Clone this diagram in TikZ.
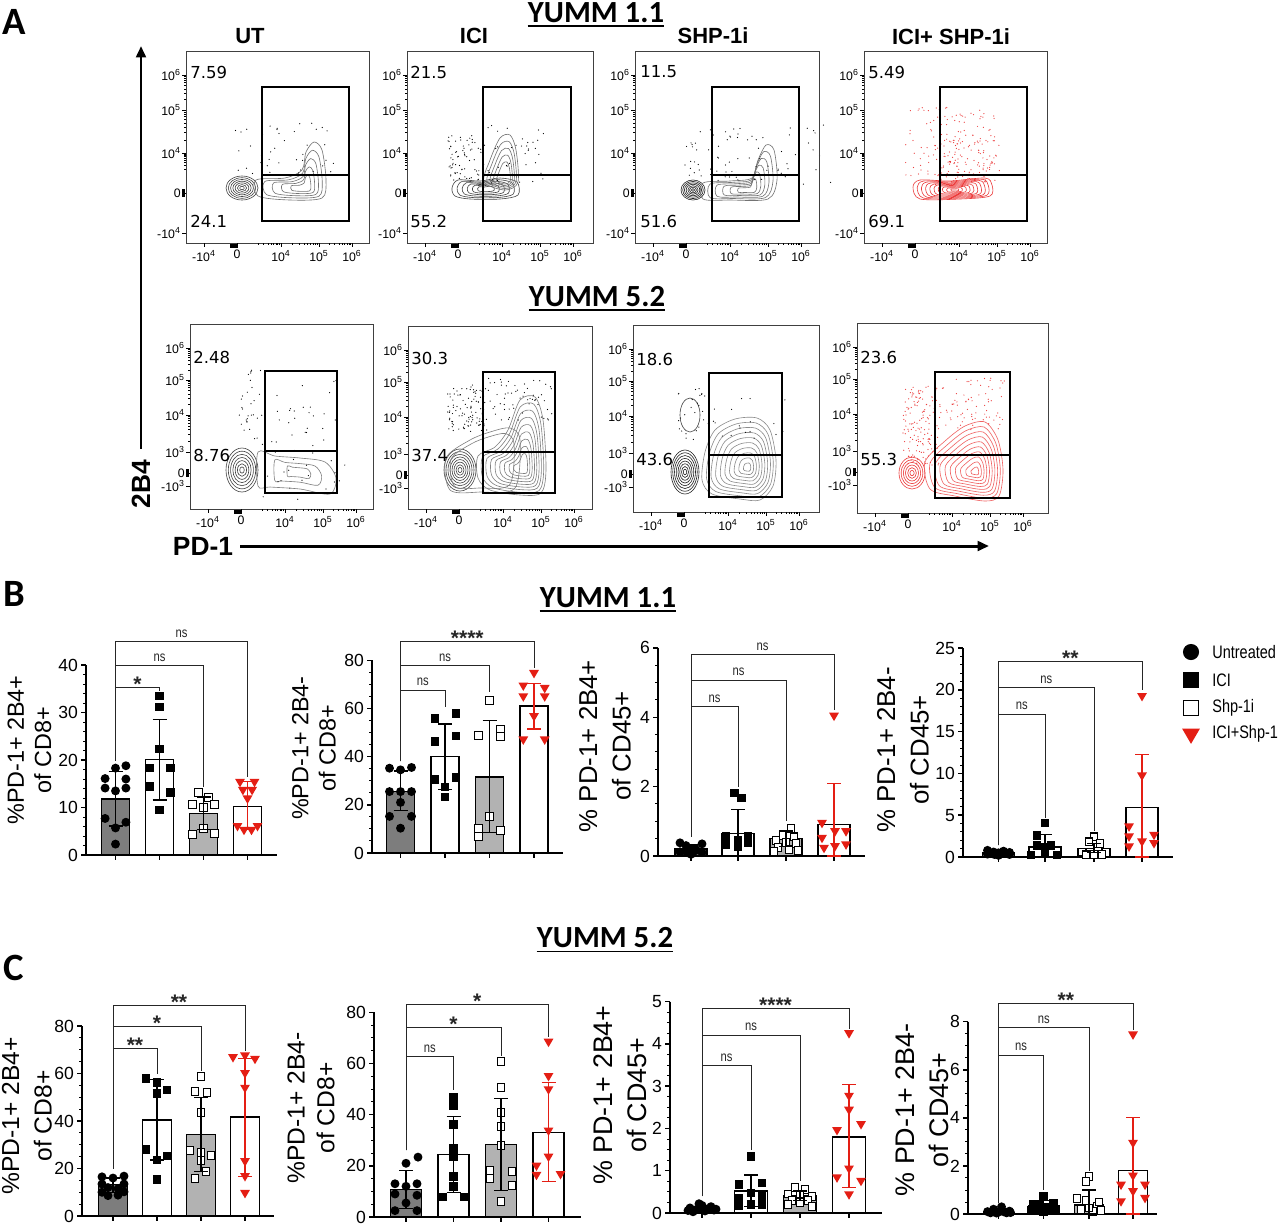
\documentclass[tikz,border=0pt]{standalone}
\usepackage{fontspec}
\setmainfont{Liberation Sans}
\newfontfamily\calfont{Carlito}
\newfontfamily\narrowfont[FakeStretch=0.8]{Liberation Sans}
\newfontfamily\flowfont{DejaVu Sans}
\usepackage{tikz}
\usetikzlibrary{arrows.meta}

\definecolor{bardark}{RGB}{125,125,125}
\definecolor{barlight}{RGB}{178,178,178}
\definecolor{ptred}{RGB}{228,30,20}
\definecolor{flowred}{RGB}{236,60,60}
\definecolor{flowgray}{RGB}{70,70,70}

\newcommand\ten[1]{10\textsuperscript{#1}}

\tikzset{
  ax/.style={line width=0.85pt},
  minor/.style={line width=0.55pt},
  bar/.style={draw=black, line width=0.75pt},
  ebar/.style={line width=0.7pt, black},
  ebred/.style={line width=0.7pt, ptred},
  brk/.style={line width=0.5pt, black!85},
  ytl/.style={left, inner sep=1.2pt, font=\fontsize{10}{12}\selectfont},
  nslab/.style={anchor=base, yshift=2.4pt, inner sep=0pt, font=\narrowfont\fontsize{8}{9}\selectfont},
  starlab/.style={anchor=base, yshift=-2.4pt, inner sep=0pt, font=\bfseries\fontsize{12}{14}\selectfont},
  ytitle/.style={rotate=90, align=center, inner sep=0pt},
  flowbox/.style={draw=black!75, line width=0.5pt},
  gatebox/.style={draw=black, line width=0.6pt},
  flowtick/.style={line width=0.35pt},
  flowtl/.style={inner sep=0.5pt, font=\fontsize{7}{7}\selectfont},
  quad/.style={anchor=west, inner sep=0pt, font=\flowfont\fontsize{9.4}{11}\selectfont},
  flowtitle/.style={font=\bfseries\fontsize{12.5}{14}\selectfont},
  yumm/.style={inner sep=0pt, font=\calfont\bfseries\fontsize{17.5}{20}\selectfont},
  uline/.style={line width=1pt},
  paneltag/.style={font=\calfont\bfseries\fontsize{22}{24}\selectfont},
  axname/.style={font=\bfseries\fontsize{15}{17}\selectfont, inner sep=0pt},
  axarrow/.style={line width=1.7pt, -{Triangle[length=6.5pt,width=5.5pt]}},
  lgtext/.style={anchor=west, inner sep=0pt, font=\narrowfont\fontsize{10.3}{12}\selectfont},
  mkcirc/.pic={\fill (0,0) circle[radius=2.55pt];},
  mksq/.pic={\fill (-2.4pt,-2.4pt) rectangle (2.4pt,2.4pt);},
  mkosq/.pic={\draw[line width=0.6pt, fill=white] (-2.25pt,-2.25pt) rectangle (2.25pt,2.25pt);},
  mktri/.pic={\fill[ptred] (-2.8pt,2pt) -- (2.8pt,2pt) -- (0,-2.8pt) -- cycle;},
}

% flow plot helpers
\def\ytopticks{24/\ten6,59/\ten5,102/\ten4,142/0,182/-\ten4}
\def\ybotticks{24/\ten6,56/\ten5,91/\ten4,128/\ten3,149/0,162/-\ten3}
\newcommand\flowaxes[7]{%
  \begin{scope}[shift={(#1,#2)}]
    \draw[flowbox] (0,0) rectangle (#3,#4);
    \foreach \p/\t in #5 {\draw[flowtick] (0,\p) -- ++(-4,0);
      \node[flowtl, left] (fy\p) at (-4,\p) {\t};}
    \foreach \a/\b in #6 {\foreach \k in {2,...,9}
      \draw[flowtick] (0,{\b+(\a-\b)*log10(\k)}) -- ++(-2,0);}
    \fill (-4.5,#7-4) rectangle (-1,#7+4);
    \foreach \p/\t in {18/-\ten4,51/0,95/\ten4,133/\ten5,166/\ten6} {\draw[flowtick] (\p,#4) -- ++(0,4);
      \node[flowtl, below] (fx\p) at (\p,#4+6) {\t};}
    \foreach \a/\b in {62/95,95/133,133/166} {\foreach \k in {2,...,9}
      \draw[flowtick] ({\a+(\b-\a)*log10(\k)},#4) -- ++(0,2);}
    \fill (44,#4+1) rectangle (52,#4+4.5);
  \end{scope}}
\newcommand\gate[5]{\draw[gatebox] (#1,#2) rectangle (#3,#5) (#1,#4) -- (#3,#4);}
\newcommand\nestring[6]{\foreach \k in {1,...,#5}
  \draw[#6, line width=0.35pt] (#1,#2) ellipse[x radius={#3*\k/#5}, y radius={#4*\k/#5}];}
\newcommand\blob[5]{\foreach \s in {#4}
  \draw[#3, line width=0.35pt, scale around={\s:(#1,#2)}] plot[smooth cycle] coordinates {#5};}
\newcommand\specks[6]{\foreach \i in {1,...,#1}{%
  \pgfmathsetmacro\sx{#2+rnd*(#3-#2)}\pgfmathsetmacro\sy{#4+rnd*(#5-#4)}%
  \fill[#6] (\sx,\sy) circle[radius=0.35pt];}}

% bar chart helpers
\newcommand\yaxis[5]{%
  \draw[ax] (0,#1) -- (0,0) -- (#4,0);
  \foreach \v in {0,#2,...,#1} \draw[ax] (0,\v) -- ++(-3pt,0) node[ytl] (yl\v) {\v};
  \foreach \v in {0,#3,...,#1} \draw[minor] (0,\v) -- ++(-1.7pt,0);
  \foreach \c in {#5} \draw[ax] (\c,0) -- ++(0,-3pt);}
\newcommand\bars[2]{\foreach \c/\h/\f in {#2} \draw[bar, fill=\f] (\c-#1,0) rectangle (\c+#1,\h);}
\newcommand\plotmarks[3]{\foreach \dx/\v in {#3} \pic at (#1+\dx,\v) {#2};}
\newcommand\sdbars[1]{\foreach \c/\lo/\hi/\st in {#1}
  \draw[\st] (\c,\lo) -- (\c,\hi) (\c-7,\lo) -- (\c+7,\lo) (\c-7,\hi) -- (\c+7,\hi);}
\newcommand\sigbrackets[3]{\foreach \r/\h/\e/\t/\st [count=\i] in {#3}
  \draw[brk] (#1,#2) |- (\r,\h) node[\st, pos=0.75] (sig\i) {\t} -- (\r,\e);}

\begin{document}
\begin{tikzpicture}[x=0.02cm, y=-0.02cm]
\pgfmathsetseed{7}
\fill[white] (0,0) rectangle (1280,1225);
\useasboundingbox (0,0) rectangle (1280,1225);

% panel A
\node[paneltag] (tagA) at (14,22) {A};
\node[yumm] (ya1) at (596,13) {YUMM 1.1};
\draw[uline] ([yshift=-1.6pt]ya1.south west) -- ([yshift=-1.6pt]ya1.south east);
\node[yumm] (ya2) at (597,297) {YUMM 5.2};
\draw[uline] ([yshift=-1.6pt]ya2.south west) -- ([yshift=-1.6pt]ya2.south east);
\node[flowtitle] (tut) at (250,36) {UT};
\node[flowtitle] (tici) at (474,36) {ICI};
\node[flowtitle] (tshp) at (713,36) {SHP-1i};
\node[flowtitle] (tboth) at (951,37) {ICI+ SHP-1i};

% top row contours
\nestring{242}{188}{16}{12}{7}{flowgray}
\blob{305}{188}{black!55}{1,0.82,0.64,0.46,0.28}{(256,180) (285,178) (302,170) (306,152) (314,142) (322,150) (326,180) (322,198) (290,200) (258,196)}
\specks{40}{235}{335}{120}{175}{black}
\blob{486}{189}{flowgray}{1,0.85,0.7,0.55,0.4,0.25}{(452,188) (458,180) (480,181) (500,178) (517,182) (518,195) (500,199) (470,199) (455,196)}
\blob{505}{180}{black!55}{1,0.85,0.7,0.55,0.4}{(484,182) (490,160) (500,138) (510,135) (516,150) (518,182) (505,190)}
\specks{70}{448}{485}{135}{180}{black}
\specks{40}{480}{545}{125}{185}{black}
\nestring{693}{190}{12}{10}{7}{black!85}
\blob{750}{190}{black!55}{1,0.85,0.7,0.55,0.4,0.25}{(703,183) (730,181) (752,178) (758,160) (766,145) (774,150) (777,180) (768,199) (730,200) (703,199)}
\specks{60}{680}{790}{128}{182}{black}
\specks{15}{780}{835}{120}{185}{black}
\blob{955}{190}{flowred}{1,0.9,0.8,0.7,0.6,0.5,0.4,0.3,0.2,0.1}{(913,187) (920,180) (950,181) (985,178) (992,185) (990,196) (960,199) (920,199)}
\specks{120}{905}{1000}{105}{185}{flowred}
\specks{100}{935}{995}{140}{182}{flowred}

% bottom row contours
\nestring{242}{470}{16}{22}{7}{flowgray}
\blob{300}{472}{black!50}{1,0.6,0.3}{(258,452) (275,456) (300,458) (325,462) (336,478) (330,494) (300,489) (270,487) (258,486)}
\specks{30}{238}{262}{370}{445}{black}
\specks{50}{262}{345}{380}{500}{black}
\nestring{460}{470}{16}{21}{8}{flowgray}
\blob{480}{465}{black!50}{1,0.85}{(446,458) (470,440) (490,432) (510,428) (520,440) (515,488) (480,492) (450,490)}
\blob{523}{468}{black!50}{1,0.9,0.8,0.7,0.6,0.5,0.4,0.3,0.2}{(478,456) (495,447) (508,430) (520,400) (535,397) (543,420) (546,470) (541,493) (520,495) (490,490) (478,478)}
\specks{100}{447}{487}{385}{432}{black}
\specks{60}{485}{552}{378}{420}{black}
\nestring{685}{472}{14}{22}{8}{black!85}
\nestring{690}{415}{10}{17}{1}{flowgray}
\blob{748}{468}{black!45}{1,0.9,0.8,0.7,0.6,0.5,0.4,0.3,0.2,0.1}{(705,452) (715,430) (735,419) (757,418) (770,430) (776,460) (773,486) (760,500) (740,499) (712,494) (702,480)}
\specks{25}{678}{705}{385}{440}{black}
\specks{20}{705}{790}{395}{440}{black}
\nestring{912}{473}{13}{16}{6}{flowred}
\blob{976}{472}{flowred!80}{1,0.9,0.8,0.7,0.6,0.5,0.4,0.3,0.2,0.1}{(925,462) (945,441) (965,426) (985,422) (998,440) (1003,470) (999,496) (985,501) (955,496) (930,489)}
\specks{150}{903}{940}{385}{465}{flowred}
\specks{80}{935}{1005}{378}{430}{flowred}

% frames, gates, numbers
\flowaxes{186}{51}{183}{192}{\ytopticks}{{24/59,59/102,102/125}}{142}
\flowaxes{407}{51}{186}{192}{\ytopticks}{{24/59,59/102,102/125}}{142}
\flowaxes{635}{51}{184}{192}{\ytopticks}{{24/59,59/102,102/125}}{142}
\flowaxes{864}{51}{183}{192}{\ytopticks}{{24/59,59/102,102/125}}{142}
\flowaxes{190}{324}{183}{185}{\ybotticks}{{24/56,56/91,91/128}}{149}
\flowaxes{408}{326}{184}{183}{\ybotticks}{{24/56,56/91,91/128}}{149}
\flowaxes{633}{325}{186}{187}{\ybotticks}{{24/56,56/91,91/128}}{149}
\flowaxes{857}{323}{191}{190}{\ybotticks}{{24/56,56/91,91/128}}{149}
\gate{262}{87}{349}{175}{221}
\gate{483}{87}{571}{175}{221}
\gate{712}{87}{799}{175}{221}
\gate{940}{87}{1027}{175}{221}
\gate{265}{371}{337}{451}{493}
\gate{483}{372}{555}{452}{493}
\gate{709}{373}{782}{455}{497}
\gate{935}{372}{1010}{455}{498}
\node[quad] (q1) at (190,72) {7.59};
\node[quad] (q2) at (190,221) {24.1};
\node[quad] (q3) at (410,72) {21.5};
\node[quad] (q4) at (410,221) {55.2};
\node[quad] (q5) at (640,72) {11.5};
\node[quad] (q6) at (640,221) {51.6};
\node[quad] (q7) at (868,72) {5.49};
\node[quad] (q8) at (868,221) {69.1};
\node[quad] (q9) at (193,357) {2.48};
\node[quad] (q10) at (193,455) {8.76};
\node[quad] (q11) at (411,358) {30.3};
\node[quad] (q12) at (411,455) {37.4};
\node[quad] (q13) at (636,359) {18.6};
\node[quad] (q14) at (636,459) {43.6};
\node[quad] (q15) at (860,357) {23.6};
\node[quad] (q16) at (860,459) {55.3};

\node[axname, rotate=90] (yax) at (141,484) {2B4};
\coordinate (ytip) at (141,46);
\draw[axarrow, shorten <=6pt] (yax.east) -- (ytip);
\node[axname] (xax) at (203,546) {PD-1};
\coordinate (xtip) at (989,546);
\draw[axarrow, shorten <=4pt] (xax.east) -- (xtip);

% panel B
\node[paneltag] (tagB) at (14,594) {B};
\node[yumm] (yb) at (608,598) {YUMM 1.1};
\draw[uline] ([yshift=-1.6pt]yb.south west) -- ([yshift=-1.6pt]yb.south east);

\begin{scope}[shift={(86,855)}, y=0.095cm]
  \yaxis{40}{10}{2}{191}{29.5,73.5,117.5,161.5}
  \bars{14}{29.5/11.8/bardark,73.5/20.1/white,117.5/8.8/barlight,161.5/10.2/white}
  \plotmarks{29.5}{mkcirc}{-10.4/16.1,0/18.3,10.4/18.8,10.4/16.0,-10.4/14.1,0/13.5,10.4/14.1,-10.4/7.7,10.4/6.9,0/5.7,0/2.3}
  \plotmarks{73.5}{mksq}{0/33.5,0/31.2,0/22.3,-10/18.3,11/18.3,-10/14.4,11/13.2,0/9.5}
  \plotmarks{117.5}{mkosq}{-5.4/13.2,5.4/12.2,-10.7/10.6,0/10,10.7/10.6,0/5.5,-10.7/4.3,10.7/4.5}
  \plotmarks{161.5}{mktri}{-7.5/15.3,7/15.3,-4.6/13.6,4.6/13.6,0/11.8,-10/6.0,10/6.0,-3.5/5.2,4/5.2}
  \sdbars{29.5/6.1/17.6/ebar,73.5/11.6/28.6/ebar,117.5/5.4/12.2/ebar,161.5/5.5/15.5/ebred}
  \sigbrackets{29.5}{19.9}{73.5/35.3/34.6/*/starlab,117.5/39.9/14.3/ns/nslab,161.5/44.9/16.4/ns/nslab}
\end{scope}
\node[ytitle, font=\fontsize{13.3}{15.5}\selectfont] (b1t) at (29.5,750) {\%PD-1+ 2B4+\\of CD8+};

\begin{scope}[shift={(372,853)}, y=0.0482cm]
  \yaxis{80}{20}{5}{191}{28.5,73,117.5,162}
  \bars{14}{28.5/25.5/bardark,73/40/white,117.5/31.5/barlight,162/61/white}
  \plotmarks{28.5}{mkcirc}{-11/35.2,0/34.5,11/35.5,-11/25.5,0/25.5,11/25.5,0/21,-11/15.2,11/15.2,0/10.3}
  \plotmarks{73}{mksq}{-10/55.9,11/57.9,-10/46.2,11/48.6,-10/30.6,11/31.3,0/27.3,0/23.2}
  \plotmarks{117.5}{mkosq}{0/63.4,-10.7/48.6,11/51.3,11/48.3,0/15.2,-10.7/10.3,-10.7/6.9,11/9.4}
  \plotmarks{162}{mktri}{0/74.5,-10.7/69.3,10.7/68.3,-10.7/64.8,10.7/64.8,0/56.6,-10.7/46.9,10.7/46.9}
  \sdbars{28.5/17.5/34/ebar,73/26.5/53.5/ebar,117.5/8.5/55/ebar,162/51.5/70.5/ebred}
  \sigbrackets{28.5}{38}{73/67.6/60.5/ns/nslab,117.5/77.9/66.9/ns/nslab,162/87.9/76.6/****/starlab}
\end{scope}
\node[ytitle, font=\fontsize{13.3}{15.5}\selectfont] (b2t) at (314,748) {\%PD-1+ 2B4-\\of CD8+};

\begin{scope}[shift={(658,856)}, y=0.694cm]
  \yaxis{6}{2}{0.5}{207}{33,80,128,176}
  \bars{16}{33/0.2/bardark,80/0.65/white,128/0.5/barlight,176/0.9/white}
  \plotmarks{33}{mkcirc}{-11/0.38,-5/0.3,0/0.22,5/0.18,11/0.35,-11/0.12,-4/0.1,4/0.15,11/0.1,0/0.05}
  \plotmarks{80}{mksq}{-3.5/1.81,3.5/1.67,-12/0.56,10/0.56,-12/0.32,0/0.27,10/0.37,0/0.45}
  \plotmarks{128}{mkosq}{5/0.8,-3/0.6,8/0.55,-10/0.45,0/0.4,10/0.35,-8/0.25,3/0.2,-12/0.12,12/0.15}
  \plotmarks{176}{mktri}{0/4.03,-12/0.94,-12/0.51,1/0.7,12/0.7,12/0.32,-10/0.22,1/0.27}
  \sdbars{33/0.1/0.32/ebar,80/0/1.33/ebar,128/0.28/0.72/ebar,176/0/2.1/ebred}
  \sigbrackets{33}{0.55}{80/4.3/2.0/ns/nslab,128/5.07/1.0/ns/nslab,176/5.81/4.2/ns/nslab}
\end{scope}
\node[ytitle, font=\fontsize{14.7}{19}\selectfont] (b3t) at (605,746) {\% PD-1+ 2B4+\\of CD45+};

\begin{scope}[shift={(963,857)}, y=0.1672cm]
  \yaxis{25}{5}{1}{210}{35.5,82,131,179}
  \bars{16}{35.5/0.5/bardark,82/1.2/white,131/1.0/barlight,179/5.9/white}
  \plotmarks{35.5}{mkcirc}{-11/0.8,-5/0.6,0/0.5,5/0.7,11/0.55,-11/0.35,-4/0.3,4/0.45,11/0.3,0/0.2}
  \plotmarks{82}{mksq}{0/4.08,-8/2.6,-8/1.4,6/1.4,-14/0.25,12/0.25,0/0.6,0/1.2}
  \plotmarks{131}{mkosq}{0/2.4,-5/1.8,6/1.6,-12/0.6,-4/0.5,4/0.7,12/0.5,0/0.3,-8/0.25,8/0.3}
  \plotmarks{179}{mktri}{0/19.2,0/9.7,-13/3.6,-13/2.4,12/2.6,12/1.6,-13/1.2,0/1.8}
  \sdbars{35.5/0.3/0.7/ebar,82/0/2.7/ebar,131/0.5/1.6/ebar,179/0/12.3/ebred}
  \sigbrackets{35.5}{1.4}{82/17.1/4.7/ns/nslab,131/20.3/3.1/ns/nslab,179/23.4/20/**/starlab}
\end{scope}
\node[ytitle, font=\fontsize{14.7}{19}\selectfont] (b4t) at (903,750) {\% PD-1+ 2B4-\\of CD45+};

% legend
\pic[scale=1.8] at (1191,652) {mkcirc};
\pic[scale=1.8] at (1191,680) {mksq};
\pic[scale=1.8] at (1191,708) {mkosq};
\pic[scale=1.8] at (1191,735) {mktri};
\node[lgtext] (lg1) at (1212,652) {Untreated};
\node[lgtext] (lg2) at (1212,680) {ICI};
\node[lgtext] (lg3) at (1212,708) {Shp-1i};
\node[lgtext] (lg4) at (1212,734) {ICI+Shp-1};

% panel C
\node[paneltag] (tagC) at (14,968) {C};
\node[yumm] (yc) at (605,938) {YUMM 5.2};
\draw[uline] ([yshift=-1.6pt]yc.south west) -- ([yshift=-1.6pt]yc.south east);

\begin{scope}[shift={(82,1216)}, y=0.0475cm]
  \yaxis{80}{20}{5}{192}{31,75,119,163}
  \bars{14.5}{31/13.2/bardark,75/40.5/white,119/34.3/barlight,163/41.7/white}
  \plotmarks{31}{mkcirc}{-11/16.5,0/16,11/16.8,-11/13.5,11/13.5,-5/12,5/11.5,-11/10,11/10.2,-5/8.6,5/8.8}
  \plotmarks{75}{mksq}{-11/58,0/56.3,10/53,0/51.6,-11/28.1,10/25.3,0/23.6,0/15.4}
  \plotmarks{119}{mkosq}{0/58.7,-6/52.4,6/52,0/43.6,-11/27.5,0/26.8,10/25.4,0/23.3,5/18.7,-6/15.9}
  \plotmarks{163}{mktri}{-12/66.7,0/67.4,10/66,0/60,0/53.8,0/22.9,0/16.6,0/9.5}
  \sdbars{31/10/16/ebar,75/23.6/57.4/ebar,119/18.8/50/ebar,163/16.8/66.5/ebred}
  \sigbrackets{31}{20}{75/70.6/60/**/starlab,119/79.7/61/*/starlab,163/88.8/69.3/**/starlab}
\end{scope}
\node[ytitle, font=\fontsize{14}{18.5}\selectfont] (c1t) at (27,1116) {\%PD-1+ 2B4+\\of CD8+};

\begin{scope}[shift={(374,1217)}, y=0.0512cm]
  \yaxis{80}{20}{5}{207}{32,79.5,127,174.5}
  \bars{15.5}{32/10.8/bardark,79.5/24.3/white,127/28.3/barlight,174.5/33/white}
  \plotmarks{32}{mkcirc}{12/23.4,0/21,-11/13,0/12,11/13,-11/9,11/8.5,0/5.5,-11/2.5,11/2.5}
  \plotmarks{79.5}{mksq}{0/46.8,0/43.6,0/36.2,0/26.7,0/23.4,0/15.9,0/12,-11/7.8,11/7.8}
  \plotmarks{127}{mkosq}{0/60.9,0/50.7,0/41,0/35.5,0/28,-11/18.2,11/17.9,-11/15,11/12.4,0/6.2}
  \plotmarks{174.5}{mktri}{0/68.3,0/54.9,0/49.7,0/33.6,0/23.4,-12/19.9,12/16.6,-12/16.3}
  \sdbars{32/3.3/18.3/ebar,79.5/9.5/39.2/ebar,127/10.3/46.3/ebar,174.5/13.8/52.5/ebred}
  \sigbrackets{32}{26}{79.5/62.6/49.5/ns/nslab,127/74.2/63/*/starlab,174.5/83/70.5/*/starlab}
\end{scope}
\node[ytitle, font=\fontsize{14}{17}\selectfont] (c2t) at (311,1108) {\%PD-1+ 2B4-\\of CD8+};

\begin{scope}[shift={(670,1213)}, y=0.846cm]
  \yaxis{5}{1}{0.25}{212}{32,81,130,179}
  \bars{16.5}{32/0.08/bardark,81/0.52/white,130/0.4/barlight,179/1.8/white}
  \plotmarks{32}{mkcirc}{-12/0.12,-6/0.08,0/0.18,6/0.1,12/0.07,-9/0.03,-3/0.22,3/0.05,9/0.15,14/0.09,-14/0.06}
  \plotmarks{81}{mksq}{0/1.34,-12/0.67,11/0.71,0/0.47,-12/0.35,11/0.2,0/0.2,-12/0.17,11/0.4}
  \plotmarks{130}{mkosq}{-5/0.6,5/0.55,-12/0.45,0/0.45,12/0.4,-8/0.3,8/0.3,0/0.25,-12/0.2,12/0.15}
  \plotmarks{179}{mktri}{0/4.24,0/2.76,0/2.43,-12/1.95,12/2.09,0/1.04,-12/0.83,12/0.75,0/0.43}
  \sdbars{32/0.05/0.15/ebar,81/0.15/0.9/ebar,130/0.3/0.52/ebar,179/0.6/3.03/ebred}
  \sigbrackets{32}{0.4}{81/3.49/1.5/ns/nslab,130/4.21/0.75/ns/nslab,179/4.84/4.36/****/starlab}
\end{scope}
\node[ytitle, font=\fontsize{15.3}{19.5}\selectfont] (c3t) at (620,1095) {\% PD-1+ 2B4+\\of CD45+};

\begin{scope}[shift={(968,1214)}, y=0.4808cm]
  \yaxis{8}{2}{0.5}{189}{30.5,75.5,121,165}
  \bars{14.5}{30.5/0.08/bardark,75.5/0.35/white,121/0.38/barlight,165/1.82/white}
  \plotmarks{30.5}{mkcirc}{-11/0.1,-5/0.2,0/0.08,5/0.1,11/0.12,-8/0.05,3/0.3,8/0.05,-2/0.04,12/0.06}
  \plotmarks{75.5}{mksq}{0/0.75,-10/0.4,-4/0.35,4/0.3,10/0.45,-12/0.15,12/0.2,0/0.1,-6/0.2,6/0.15}
  \plotmarks{121}{mkosq}{0/1.55,-3/1.35,-12/0.65,-3/0.58,8/0.3,12/0.15,-8/0.2,4/0.1,0/0.25,10/0.5}
  \plotmarks{165}{mktri}{0/7.45,0/2.94,0/1.58,-12/1.2,12/1.2,0/0.93,-12/0.51,12/0.65}
  \sdbars{30.5/0.02/0.2/ebar,75.5/0.2/0.55/ebar,121/0/1.0/ebar,165/0/4.03/ebred}
  \sigbrackets{30.5}{0.45}{75.5/6.61/1.0/ns/nslab,121/7.77/1.8/ns/nslab,165/8.76/7.65/**/starlab}
\end{scope}
\node[ytitle, font=\fontsize{15.3}{19.5}\selectfont] (c4t) at (922,1110) {\% PD-1+ 2B4-\\of CD45+};
\end{tikzpicture}
\end{document}
